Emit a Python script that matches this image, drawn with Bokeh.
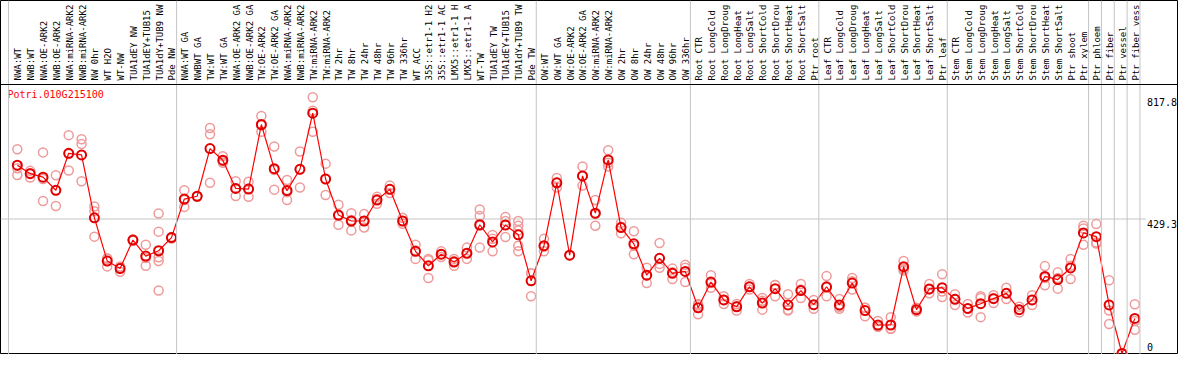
import numpy as np
from bokeh.plotting import figure
from bokeh.models import Range1d, Span
from bokeh.core.properties import value
from bokeh.embed import file_html
from bokeh.resources import INLINE

gene = "Potri.010G215100"

samples = [
    "NWA:WT", "NWB:WT", "NWA:OE-ARK2", "NWB:OE-ARK2", "NWA:miRNA-ARK2", "NWB:miRNA-ARK2",
    "NW 0hr", "WT H2O", "WT-NW", "TUA1dEY NW", "TUA1dEY+TUB15", "TUA1dY+TUB9 NW", "Pde NW",
    "NWA:WT GA", "NWBWT GA", "TW:WT", "TW:WT GA", "NWA:OE-ARK2 GA", "NWB:OE-ARK2 GA",
    "TW:OE-ARK2", "TW:OE-ARK2 GA", "NWA:miRNA-ARK2", "NWB:miRNA-ARK2", "TW:miRNA-ARK2",
    "TW:miRNA-ARK2", "TW 2hr", "TW 8hr", "TW 24hr", "TW 48hr", "TW 96hr", "TW 336hr",
    "WT ACC", "35S::etr1-1 H2", "35S::etr1-1 AC", "LMX5::etr1-1 H", "LMX5::etr1-1 A",
    "WT-TW", "TUA1dEY TW", "TUA1dEY+TUB15", "TUA1dY+TUB9 TW", "Pde TW",
    "OW:WT", "OW:WT GA", "OW:OE-ARK2", "OW:OE-ARK2 GA", "OW:miRNA-ARK2", "OW:miRNA-ARK2",
    "OW 2hr", "OW 8hr", "OW 24hr", "OW 48hr", "OW 96hr", "OW 336hr",
    "Root CTR", "Root LongCold", "Root LongDroug", "Root LongHeat", "Root LongSalt",
    "Root ShortCold", "Root ShortDrou", "Root ShortHeat", "Root ShortSalt", "Ptr root",
    "Leaf CTR", "Leaf LongCold", "Leaf LongDroug", "Leaf LongHeat", "Leaf LongSalt",
    "Leaf ShortCold", "Leaf ShortDrou", "Leaf ShortHeat", "Leaf ShortSalt", "Ptr leaf",
    "Stem CTR", "Stem LongCold", "Stem LongDroug", "Stem LongHeat", "Stem LongSalt",
    "Stem ShortCold", "Stem ShortDrou", "Stem ShortHeat", "Stem ShortSalt", "Ptr shoot",
    "Ptr xylem", "Ptr phloem", "Ptr fiber", "Ptr vessel", "Ptr fiber vess",
]

group_sizes = [13, 28, 12, 10, 10, 11, 1, 1, 1, 1]

means = [
    601, 574, 563, 521, 639, 634, 433, 295, 271, 362, 311, 328, 370,
    493, 502, 654, 617, 527, 525, 731, 590, 520, 588, 767, 557, 442, 423, 423,
    490, 524, 423, 326, 280, 317, 292, 320, 411, 356, 410, 379, 232,
    344, 545, 314, 567, 448, 618, 402, 350, 250, 304, 256, 262,
    146, 228, 171, 149, 213, 161, 207, 155, 201, 156,
    213, 155, 225, 137, 91, 91, 277, 140, 206, 210,
    173, 144, 159, 175, 192, 140, 171, 246, 236, 273, 385,
    373, 155, 0, 112,
]

replicates = [
    [652, 591, 570], [583, 576, 562], [642, 557, 487], [569, 521, 471],
    [697, 637, 584], [684, 669, 550], [469, 454, 373], [304, 302, 278],
    [278, 274, 261], [364, 362, 360], [347, 305, 280], [447, 389, 307, 295, 201],
    [372, 367],
    [521, 490, 468], [503, 500], [720, 700, 545], [630, 614, 609],
    [550, 527, 503], [548, 527, 500], [758, 728, 708], [661, 586, 523],
    [554, 515, 490], [645, 588, 530], [817.8, 775, 708], [606, 557, 506],
    [475, 439, 411], [448, 426, 393], [445, 423, 402], [500, 493, 478],
    [536, 524, 512], [433, 423, 414], [347, 329, 302], [302, 298, 241],
    [326, 317, 308], [302, 295, 280], [338, 320, 302], [460, 439, 408, 338],
    [378, 366, 326], [436, 423, 372], [423, 408, 393, 344, 326], [256, 256, 183],
    [366, 341, 326], [560, 545, 530], [314, 314], [597, 567, 536],
    [490, 445, 408], [649, 609, 597], [417, 405, 384], [390, 344, 317],
    [274, 250, 225], [353, 286, 274], [271, 259, 238], [283, 274, 228],
    [158, 155, 125], [250, 225, 210], [183, 171, 158], [158, 152, 137],
    [222, 213, 204], [177, 168, 140], [219, 219, 183], [189, 140, 137],
    [222, 204, 177], [171, 155, 143],
    [247, 210, 183], [174, 149, 143], [241, 231, 204], [146, 146, 119],
    [104, 85, 85], [116, 79, 79], [295, 271, 265], [146, 140, 134],
    [222, 204, 192], [253, 198, 180],
    [189, 174, 155], [158, 143, 131], [183, 177, 116], [186, 177, 161],
    [210, 192, 174], [149, 140, 131], [186, 171, 155], [279, 241, 218],
    [259, 241, 207], [302, 280, 238], [408, 399, 347],
    [413, 354, 351], [234, 137, 94], [0, 0, 0], [157, 104, 76],
]

y_ticks = [0, 429.3, 817.8]
y_tick_labels = ["0", "429.3", "817.8"]

# ---------------- layout ----------------
W, H = 1178, 354
band_px = 84          # height of the label band at the top
zero_px = 353         # pixel row of value 0 (from top)
y_top = max(y_ticks) * 1.05
ppu = (zero_px - band_px) / y_top
y_start = -(H - zero_px) / ppu
y_end = y_top + band_px / ppu

x_start, x_end = -1.31, 90.4

MONO = value("DejaVu Sans Mono")

p = figure(width=W, height=H, x_range=Range1d(x_start, x_end), y_range=Range1d(y_start, y_end),
           output_backend="svg", toolbar_location=None, min_border=0,
           x_axis_type=None, y_axis_type=None)
p.outline_line_color = "black"
p.outline_line_width = 1
p.background_fill_color = "white"
p.border_fill_color = "white"

n = len(samples)
idx = list(range(n))

# group separators
bounds = [-0.69]
c = 0
for g in group_sizes:
    c += g
    bounds.append(c - 1 + 0.4)
for b in bounds:
    p.add_layout(Span(location=b, dimension="height", line_color="#c4c4c4", line_width=1))

# mid reference line
p.segment(x0=[x_start], x1=[87.85], y0=[y_ticks[1]], y1=[y_ticks[1]], line_color="#c4c4c4", line_width=1)

# separation line under labels
p.add_layout(Span(location=y_top, dimension="width", line_color="black", line_width=1))

# sample labels
p.text(x=idx, y=[y_top + 4 / ppu] * n, text=samples, angle=np.pi / 2,
       text_align="left", text_baseline="middle", x_offset=1,
       text_font=MONO, text_font_size="9px", text_color="black")

# value labels on the right
p.text(x=[87.95] * 2, y=y_ticks[1:], text=y_tick_labels[1:], text_align="left", text_baseline="top",
       text_font=MONO, text_font_size="10px", text_color="black", y_offset=1)
p.text(x=[87.95], y=[y_ticks[0]], text=[y_tick_labels[0]], text_align="left", text_baseline="bottom",
       text_font=MONO, text_font_size="10px", text_color="black", y_offset=-3)

# gene title
p.text(x=[-0.77], y=[y_top - 4 / ppu], text=[gene], text_align="left", text_baseline="top",
       text_font=MONO, text_font_size="10px", text_color="#ff0000")

# replicates
rx = [i for i, r in enumerate(replicates) for _ in r]
ry = [v for r in replicates for v in r]
p.scatter(rx, ry, marker="circle", size=9, fill_color=None, line_color="#ef9a9a", line_width=1.5)

# mean profile
p.line(idx, means, line_color="#ff0000", line_width=1.2)
p.scatter(idx, means, marker="circle", size=9, fill_color=None, line_color="#e00000", line_width=2)

open("out.html", "w").write(file_html(p, INLINE))
